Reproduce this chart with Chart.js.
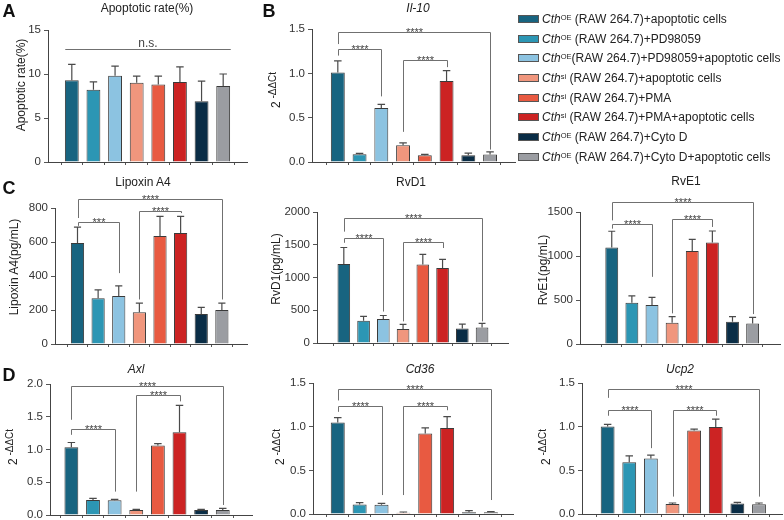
<!DOCTYPE html>
<html>
<head>
<meta charset="utf-8">
<script src="https://cdn.jsdelivr.net/npm/chart.js@4.4.0/dist/chart.umd.min.js"></script>
<style>
body { margin: 0; background: #fff; font-family: "Liberation Sans", Arial, sans-serif; }
#fig { position: relative; width: 784px; height: 520px; overflow: hidden; }
#fig canvas { position: absolute; }
.lt { position: absolute; font-weight: bold; font-size: 18px; color: #111; transform: translate(-50%, -50%); }
.t { position: absolute; font-size: 12px; color: #222; white-space: nowrap; transform: translate(-50%, -50%); }
.yl { position: absolute; font-size: 12px; color: #222; white-space: nowrap; transform: translate(-50%, -50%) rotate(-90deg); }
.yl .s { font-size: 10px; position: relative; top: -4px; }
#legend { position: absolute; left: 518px; top: 9px; font-size: 12px; color: #222; }
.row { height: 19.7px; display: flex; align-items: center; white-space: nowrap; }
.sw { width: 21px; height: 8px; border: 1px solid #555; box-sizing: border-box; margin-right: 3px; }
.row sup { font-size: 7.5px; position: relative; top: -1px; vertical-align: super; line-height: 0; }
</style>
</head>
<body>
<div id="fig"></div>
<script>
// groups (legend)
const groupSup = ['OE', 'OE', 'OE', 'si', 'si', 'si', 'OE', 'OE'];
const groupText = [' (RAW 264.7)+apoptotic cells', ' (RAW 264.7)+PD98059', '(RAW 264.7)+PD98059+apoptotic cells',
  ' (RAW 264.7)+apoptotic cells', ' (RAW 264.7)+PMA', ' (RAW 264.7)+PMA+apoptotic cells',
  ' (RAW 264.7)+Cyto D', ' (RAW 264.7)+Cyto D+apoptotic cells'];
const groupColors = ['#186480', '#2c96b4', '#8cc3e1', '#f0967d', '#e85a41', '#cc2323', '#0a2d46', '#9b9da2'];

// A - apoptotic rate
const apoRate = [9.3, 8.2, 9.8, 9.0, 8.8, 9.1, 6.9, 8.65];
const apoRateSd = [1.8, 0.9, 1.1, 0.75, 0.95, 1.7, 2.3, 1.35];
const apoTicks = [0, 5, 10, 15];
const apoSig = [[-0.33, 7.33, 12.84, 12.84, 12.84, 'n.s.']];

// B - Il-10
const il10 = [1.01, 0.087, 0.61, 0.19, 0.076, 0.914, 0.076, 0.085];
const il10Sd = [0.13, 0.011, 0.04, 0.025, 0.011, 0.116, 0.024, 0.03];
const il10Ticks = [0, 0.5, 1.0, 1.5];
const il10Sig = [[0, 7, 1.466, 1.33, 0.14, '****'], [0, 2, 1.273, 1.2, 0.74, '****'], [3, 5, 1.152, 0.34, 1.07, '****']];

// C - Lipoxin A4, RvD1, RvE1
const lxa4 = [594, 269, 283, 187, 635, 653, 177, 200];
const lxa4Sd = [94, 49, 59, 53, 116, 98, 39, 40];
const lxa4Ticks = [0, 200, 400, 600, 800];
const lxa4Sig = [[0, 7, 853, 741, 262, '****'], [0, 2, 717, 695, 417, '***'], [3, 5, 782, 262, 770, '****']];

const rvd1 = [1205, 339, 365, 213, 1200, 1144, 223, 238];
const rvd1Sd = [253, 66, 55, 71, 152, 132, 66, 61];
const rvd1Ticks = [0, 500, 1000, 1500, 2000];
const rvd1Sig = [[0, 7, 1909, 1700, 330, '****'], [0, 2, 1605, 1530, 480, '****'], [3, 5, 1544, 330, 1450, '****']];

const rve1 = [1096, 468, 442, 242, 1058, 1152, 253, 234];
const rve1Sd = [185, 80, 87, 68, 132, 132, 57, 68];
const rve1Ticks = [0, 500, 1000, 1500];
const rve1Sig = [[0, 7, 1613, 1405, 340, '****'], [0, 2, 1368, 1311, 763, '****'], [3, 5, 1424, 348, 1330, '****']];

// D - Axl, Cd36, Ucp2
const axl = [1.036, 0.23, 0.224, 0.077, 1.06, 1.265, 0.077, 0.077];
const axlSd = [0.071, 0.025, 0.016, 0.01, 0.03, 0.408, 0.01, 0.023];
const axlTicks = [0, 0.5, 1.0, 1.5, 2.0];
const axlSig = [[0, 7, 1.964, 1.454, 0.153, '****'], [0, 2, 1.316, 1.224, 0.357, '****'], [3, 5, 1.837, 0.357, 1.735, '****']];

const cd36 = [1.047, 0.11, 0.107, 0.015, 0.921, 0.986, 0.019, 0.019];
const cd36Sd = [0.057, 0.02, 0.015, 0.008, 0.065, 0.129, 0.019, 0.008];
const cd36Ticks = [0, 0.5, 1.0, 1.5];
const cd36Sig = [[0, 7, 1.428, 1.30, 0.16, '****'], [0, 2, 1.237, 1.17, 0.217, '****'], [3, 5, 1.237, 0.217, 1.188, '****']];

const ucp2 = [1.003, 0.593, 0.635, 0.115, 0.957, 0.995, 0.119, 0.111];
const ucp2Sd = [0.023, 0.073, 0.038, 0.011, 0.015, 0.092, 0.015, 0.015];
const ucp2Ticks = [0, 0.5, 1.0, 1.5];
const ucp2Sig = [[0, 7, 1.431, 1.33, 0.199, '****'], [0, 2, 1.194, 1.125, 0.754, '****'], [3, 5, 1.194, 0.199, 1.125, '****']];

const fam = '"Liberation Sans", Arial, sans-serif';
Chart.defaults.font.family = fam;
const fig = document.getElementById('fig');

// page positions of each panel (canvas box + plot area + first/last bar centre)
const panels = [
  { x: 0, y: 0, w: 258, h: 180, left: 48, right: 247, top: 30, bottom: 162, first: 61, last: 234, values: apoRate, sd: apoRateSd, ticks: apoTicks, dec: 0, sig: apoSig },
  { x: 258, y: 0, w: 262, h: 180, left: 312, right: 515, top: 29, bottom: 162, first: 327, last: 501, values: il10, sd: il10Sd, ticks: il10Ticks, dec: 1, sig: il10Sig },
  { x: 0, y: 172, w: 258, h: 185, left: 55, right: 247, top: 208, bottom: 344, first: 67, last: 232, values: lxa4, sd: lxa4Sd, ticks: lxa4Ticks, dec: 0, sig: lxa4Sig },
  { x: 258, y: 172, w: 262, h: 185, left: 317, right: 508, top: 212, bottom: 343, first: 334, last: 492, values: rvd1, sd: rvd1Sd, ticks: rvd1Ticks, dec: 0, sig: rvd1Sig },
  { x: 520, y: 172, w: 264, h: 185, left: 580, right: 780, top: 212, bottom: 344, first: 602, last: 763, values: rve1, sd: rve1Sd, ticks: rve1Ticks, dec: 0, sig: rve1Sig },
  { x: 0, y: 352, w: 258, h: 180, left: 50, right: 252, top: 384, bottom: 515, first: 60, last: 233, values: axl, sd: axlSd, ticks: axlTicks, dec: 1, sig: axlSig },
  { x: 258, y: 352, w: 262, h: 180, left: 313, right: 513, top: 383, bottom: 514, first: 327, last: 502, values: cd36, sd: cd36Sd, ticks: cd36Ticks, dec: 1, sig: cd36Sig },
  { x: 520, y: 352, w: 264, h: 180, left: 582, right: 782, top: 383, bottom: 514, first: 597, last: 770, values: ucp2, sd: ucp2Sd, ticks: ucp2Ticks, dec: 1, sig: ucp2Sig }
];

// error bars (mean + SD, upward only)
const errPlugin = {
  id: 'errbars',
  afterDatasetsDraw(chart) {
    const ds = chart.data.datasets[0];
    const ys = chart.scales.y;
    const ctx = chart.ctx;
    ctx.save();
    ctx.strokeStyle = '#4a4a4a';
    ctx.lineWidth = 1.2;
    chart.getDatasetMeta(0).data.forEach((bar, i) => {
      const top = ys.getPixelForValue(ds.data[i].y + ds.sd[i]);
      const cap = bar.width * 0.27;
      ctx.beginPath();
      ctx.moveTo(bar.x, bar.y);
      ctx.lineTo(bar.x, top);
      ctx.moveTo(bar.x - cap, top);
      ctx.lineTo(bar.x + cap, top);
      ctx.stroke();
    });
    ctx.restore();
  }
};

function makeSigPlugin(brackets) {
  return {
    id: 'sig',
    afterDraw(chart) {
      const xs = chart.scales.x, ys = chart.scales.y, ctx = chart.ctx;
      ctx.save();
      ctx.strokeStyle = '#707070';
      ctx.lineWidth = 1;
      ctx.fillStyle = '#444';
      ctx.textAlign = 'center';
      brackets.forEach(([a, b, h, la, lb, txt]) => {
        const x1 = Math.round(xs.getPixelForValue(a)) + 0.5;
        const x2 = Math.round(xs.getPixelForValue(b)) + 0.5;
        const yh = Math.round(ys.getPixelForValue(h)) + 0.5;
        ctx.beginPath();
        ctx.moveTo(x1, ys.getPixelForValue(la));
        ctx.lineTo(x1, yh);
        ctx.lineTo(x2, yh);
        ctx.lineTo(x2, ys.getPixelForValue(lb));
        ctx.stroke();
        if (txt === 'n.s.') {
          ctx.font = '12px ' + fam;
          ctx.fillText(txt, (x1 + x2) / 2, yh - 3);
        } else {
          ctx.font = '11px ' + fam;
          ctx.fillText(txt, (x1 + x2) / 2, yh + 3);
        }
      });
      ctx.restore();
    }
  };
}

panels.forEach(p => {
  const c = document.createElement('canvas');
  c.width = p.w; c.height = p.h;
  c.style.left = p.x + 'px'; c.style.top = p.y + 'px';
  fig.appendChild(c);
  const step = (p.last - p.first) / (p.values.length - 1);
  const xMin = -(p.first - p.left) / step;
  const xMax = p.values.length - 1 + (p.right - p.last) / step;
  new Chart(c, {
    type: 'bar',
    data: {
      datasets: [{
        data: p.values.map((v, i) => ({ x: i, y: v })),
        sd: p.sd,
        backgroundColor: groupColors,
        borderColor: '#3a3a3a',
        borderWidth: 1,
        barPercentage: 0.64,
        categoryPercentage: 1
      }]
    },
    options: {
      responsive: false,
      animation: false,
      layout: { padding: { top: p.top - p.y, right: p.x + p.w - p.right, left: 0, bottom: 0 } },
      plugins: { legend: { display: false }, tooltip: { enabled: false } },
      scales: {
        x: {
          type: 'linear', min: xMin, max: xMax,
          afterBuildTicks: s => { s.ticks = p.values.map((v, i) => ({ value: i })); },
          afterFit: s => { s.height = p.y + p.h - p.bottom; },
          ticks: { display: false },
          grid: { display: true, drawOnChartArea: false, drawTicks: true, tickLength: 3, color: '#555' },
          border: { color: '#444', width: 1 }
        },
        y: {
          min: p.ticks[0], max: p.ticks[p.ticks.length - 1],
          afterBuildTicks: s => { s.ticks = p.ticks.map(v => ({ value: v })); },
          afterFit: s => { s.width = p.left - p.x; },
          ticks: { font: { size: 11.5 }, color: '#333', padding: 3, callback: v => v.toFixed(p.dec) },
          grid: { display: true, drawOnChartArea: false, drawTicks: true, tickLength: 4, color: '#555' },
          border: { color: '#444', width: 1 }
        }
      }
    },
    plugins: [errPlugin, makeSigPlugin(p.sig)]
  });
});

// panel letters, titles, axis labels
function addDiv(cls, html, x, y) {
  const d = document.createElement('div');
  d.className = cls;
  d.innerHTML = html;
  d.style.left = x + 'px';
  d.style.top = y + 'px';
  fig.appendChild(d);
}
addDiv('lt', 'A', 9, 11);
addDiv('lt', 'B', 269, 11);
addDiv('lt', 'C', 9, 188);
addDiv('lt', 'D', 9, 375);

addDiv('t', 'Apoptotic rate(%)', 147, 8);
addDiv('t', '<i>Il-10</i>', 418, 8);
addDiv('t', 'Lipoxin A4', 143, 182);
addDiv('t', 'RvD1', 411, 182);
addDiv('t', 'RvE1', 686, 181);
addDiv('t', '<i>Axl</i>', 136, 369);
addDiv('t', '<i>Cd36</i>', 420, 369);
addDiv('t', '<i>Ucp2</i>', 680, 369);

const ddct = '2<span class="s"> -&Delta;&Delta;Ct</span>';
addDiv('yl', 'Apoptotic rate(%)', 21, 85);
addDiv('yl', ddct, 276, 90);
addDiv('yl', 'Lipoxin A4(pg/mL)', 14, 267);
addDiv('yl', 'RvD1(pg/mL)', 276, 269);
addDiv('yl', 'RvE1(pg/mL)', 543, 270);
addDiv('yl', ddct, 13, 447);
addDiv('yl', ddct, 280, 447);
addDiv('yl', ddct, 546, 447);

// legend
const leg = document.createElement('div');
leg.id = 'legend';
groupColors.forEach((col, i) => {
  const r = document.createElement('div');
  r.className = 'row';
  r.innerHTML = '<span class="sw" style="background:' + col + '"></span><i>Cth</i><sup>' + groupSup[i] + '</sup>' + groupText[i].replace(/ /g, '&nbsp;');
  leg.appendChild(r);
});
fig.appendChild(leg);
</script>
</body>
</html>
